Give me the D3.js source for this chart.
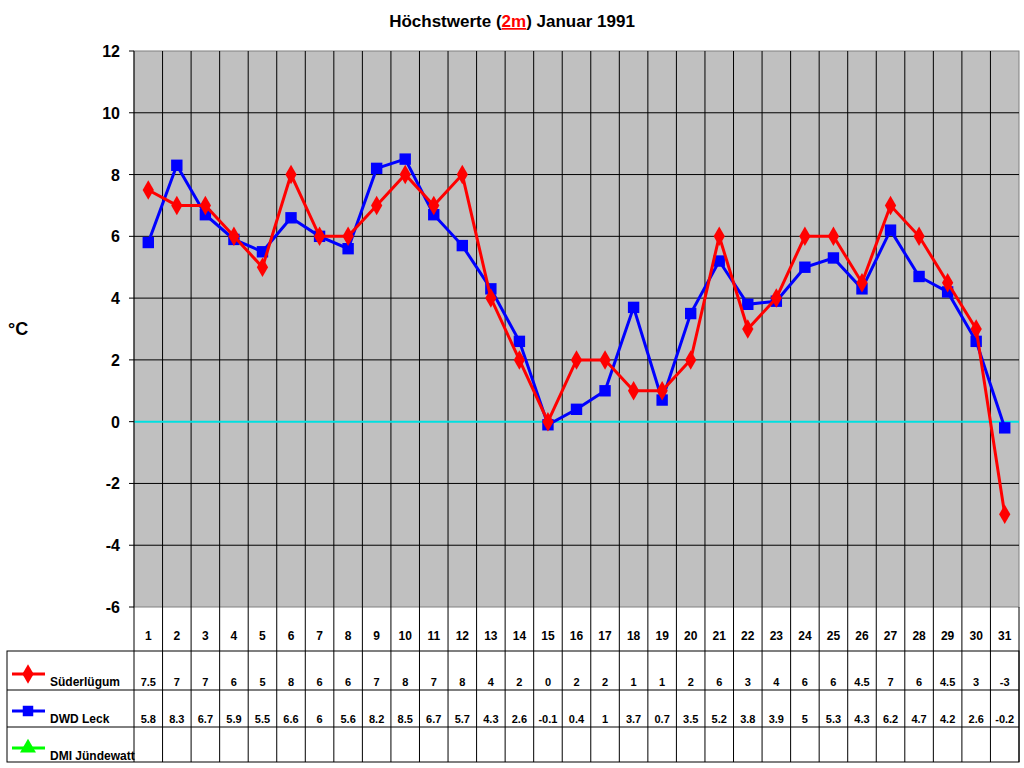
<!DOCTYPE html><html><head><meta charset="utf-8"><script src="https://cdn.jsdelivr.net/npm/d3@7"></script>
<style>body{margin:0;background:#fff}text{font-family:Arial,"Liberation Sans",sans-serif;font-weight:bold}</style></head><body>
<svg id="c" width="1024" height="768"></svg>
<script>
const days=d3.range(1,32);
const suder=[7.5,7,7,6,5,8,6,6,7,8,7,8,4,2,0,2,2,1,1,2,6,3,4,6,6,4.5,7,6,4.5,3,-3];
const dwd=[5.8,8.3,6.7,5.9,5.5,6.6,6,5.6,8.2,8.5,6.7,5.7,4.3,2.6,-0.1,0.4,1,3.7,0.7,3.5,5.2,3.8,3.9,5,5.3,4.3,6.2,4.7,4.2,2.6,-0.2];
const yTicks=[-6,-4,-2,0,2,4,6,8,10,12];
const svg=d3.select("#c");
const L=134,R=1019,T=51,B=607;
const x=d3.scaleBand().domain(days).range([L,R]);
const y=d3.scaleLinear().domain([-6,12]).range([B,T]);
svg.append("rect").attr("x",L).attr("y",T).attr("width",R-L).attr("height",B-T).attr("fill","#c0c0c0").attr("stroke","#808080");
yTicks.forEach(t=>{if(t>-6&&t<12&&t!==0)svg.append("line").attr("x1",L).attr("x2",R).attr("y1",y(t)).attr("y2",y(t)).attr("stroke","#000");});
days.slice(1).forEach(d=>svg.append("line").attr("x1",x(d)).attr("x2",x(d)).attr("y1",T).attr("y2",762).attr("stroke","#000"));
svg.append("line").attr("x1",L).attr("x2",R).attr("y1",y(0)).attr("y2",y(0)).attr("stroke","#00e0e0").attr("stroke-width",2);
// y axis
svg.append("line").attr("x1",L).attr("x2",L).attr("y1",T).attr("y2",762).attr("stroke","#000");
yTicks.forEach(t=>{svg.append("line").attr("x1",L-5).attr("x2",L).attr("y1",y(t)).attr("y2",y(t)).attr("stroke","#000");
svg.append("text").attr("x",L-14).attr("y",y(t)+6).attr("text-anchor","end").attr("font-size",16).text(t);});
svg.append("text").attr("x",8).attr("y",335).attr("font-size",18).text("°C");
const t=svg.append("text").attr("x",512).attr("y",27).attr("text-anchor","middle").attr("font-size",17);
t.append("tspan").text("Höchstwerte (");t.append("tspan").attr("fill","#f00").attr("text-decoration","underline").text("2m");t.append("tspan").text(") Januar 1991");
// table
const rows=[651,690,727,762];
svg.append("rect").attr("x",7).attr("y",651).attr("width",R-7).attr("height",111).attr("fill","none").attr("stroke","#000");
[690,727].forEach(v=>svg.append("line").attr("x1",7).attr("x2",R).attr("y1",v).attr("y2",v).attr("stroke","#000"));
svg.append("line").attr("x1",R).attr("x2",R).attr("y1",B).attr("y2",762).attr("stroke","#000");
const cx=d=>x(d)+x.bandwidth()/2;
days.forEach(d=>svg.append("text").attr("x",cx(d)).attr("y",640).attr("text-anchor","middle").attr("font-size",12).text(d));
days.forEach((d,i)=>{svg.append("text").attr("x",cx(d)).attr("y",686).attr("text-anchor","middle").attr("font-size",11).text(suder[i]);
svg.append("text").attr("x",cx(d)).attr("y",723).attr("text-anchor","middle").attr("font-size",11).text(dwd[i]);});
const series=[{n:"Süderlügum",c:"#f00",s:d3.symbolDiamond,ys:674},{n:"DWD Leck",c:"#00f",s:d3.symbolSquare,ys:711},{n:"DMI Jündewatt",c:"#0f0",s:d3.symbolTriangle,ys:748}];
series.forEach(s=>{svg.append("line").attr("x1",12).attr("x2",45).attr("y1",s.ys).attr("y2",s.ys).attr("stroke",s.c).attr("stroke-width",3);
svg.append("path").attr("d",d3.symbol().type(s.s).size(110)).attr("transform",`translate(28,${s.ys})`).attr("fill",s.c);
svg.append("text").attr("x",50).attr("y",s.ys+12).attr("font-size",12).text(s.n);});
// lines
const line=d3.line().x((v,i)=>cx(days[i])).y(v=>y(v));
[[dwd,"#00f",d3.symbolSquare,130],[suder,"#f00",d3.symbolDiamond,110]].forEach(([data,c,sym,sz])=>{
svg.append("path").attr("d",line(data)).attr("fill","none").attr("stroke",c).attr("stroke-width",3);
svg.selectAll(null).data(data).enter().append("path").attr("d",d3.symbol().type(sym).size(sz)).attr("transform",(v,i)=>`translate(${cx(days[i])},${y(v)})`).attr("fill",c);});
</script></body></html>
